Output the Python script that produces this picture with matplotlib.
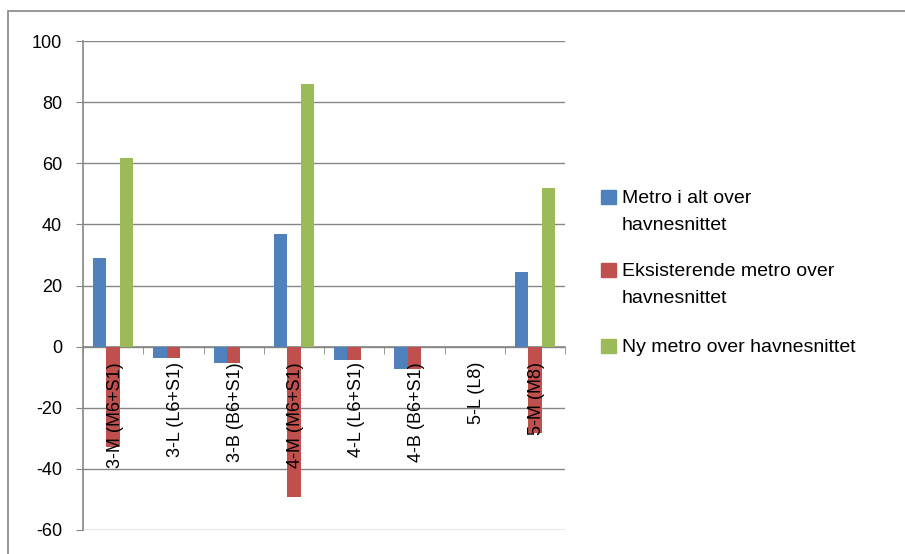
import numpy as np
import matplotlib
matplotlib.use("Agg")
import matplotlib.pyplot as plt
from matplotlib.patches import Rectangle

categories = ["3-M (M6+S1)", "3-L (L6+S1)", "3-B (B6+S1)", "4-M (M6+S1)",
              "4-L (L6+S1)", "4-B (B6+S1)", "5-L (L8)", "5-M (M8)"]
metro_total = [29, -3.8, -5.3, 37, -4.5, -7.2, 0, 24.3]
existing = [-32.8, -3.8, -5.3, -49.3, -4.5, -7.2, 0, -28.2]
new_metro = [61.6, 0, 0, 86, 0, 0, 0, 51.8]
series_labels = ["Metro i alt over\nhavnesnittet",
                 "Eksisterende metro over\nhavnesnittet",
                 "Ny metro over havnesnittet"]
colors = ["#4F81BD", "#C0504D", "#9BBB59"]
yticks = [-60, -40, -20, 0, 20, 40, 60, 80, 100]

plt.rcParams.update({
    "font.family": ["Liberation Sans", "DejaVu Sans"],
    "font.size": 13,
    "axes.unicode_minus": False,
})

fig = plt.figure(figsize=(9.05, 5.54), dpi=100)
ax = fig.add_axes([83 / 905, 1 - 530 / 554, 482 / 905, 489 / 554])

grey = "#868686"
x = np.arange(len(categories))
w = 0.22
for i, vals in enumerate([metro_total, existing, new_metro]):
    ax.bar(x + (i - 1) * w, vals, width=w, color=colors[i], zorder=3)

ax.set_xlim(-0.5, len(categories) - 0.5)
ax.set_ylim(-60, 100)
ax.set_yticks(yticks)
ax.yaxis.grid(True, color=grey, linewidth=1, zorder=0)
ax.set_axisbelow(True)

# category axis sits on the zero line
ax.spines["bottom"].set_position(("data", 0))
for s in ["top", "right"]:
    ax.spines[s].set_visible(False)
for s in ["left", "bottom"]:
    ax.spines[s].set_color(grey)
    ax.spines[s].set_linewidth(1.2)

ax.set_xticks([])
ax.set_xticks(np.arange(-0.5, len(categories)), minor=True)
ax.tick_params(axis="x", which="minor", length=5, color=grey, direction="out")
ax.tick_params(axis="y", length=5, color=grey, pad=10)

# category labels drawn over the bars, like the original
for xi, cat in zip(x, categories):
    ax.annotate(cat, xy=(xi, 0), xytext=(1.5, -11), textcoords="offset points",
                rotation=90, ha="center", va="top", fontsize=13, zorder=6)

# legend built by hand so the swatch sits on the first text line
legend_tops = [190, 263, 339]
for col, lab, ytop in zip(colors, series_labels, legend_tops):
    fig.patches.append(Rectangle((601 / 905, 1 - (ytop + 14) / 554), 15 / 905, 14 / 554,
                                 transform=fig.transFigure, color=col))
    fig.text(622 / 905, 1 - ytop / 554, lab, ha="left", va="top",
             fontsize=14, linespacing=1.75)

# outer chart border (only left and top are inside the picture)
fig.patches.append(Rectangle((8 / 905, -0.1), 1.2, 1.1 - 11 / 554,
                             transform=fig.transFigure, fill=False,
                             edgecolor=grey, linewidth=1.2))

fig.savefig("out.png", dpi=100)
